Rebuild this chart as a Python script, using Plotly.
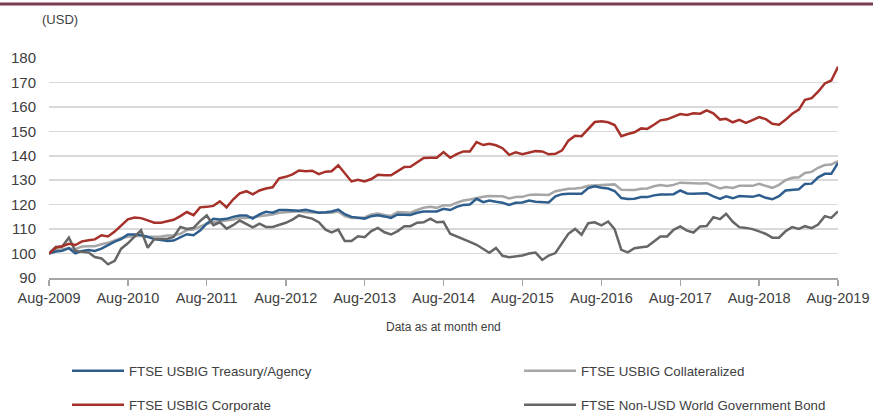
import pandas as pd
import plotly.graph_objects as go

dates = pd.date_range("2009-08-01", periods=121, freq="MS")
tick_dates = pd.date_range("2009-08-01", periods=11, freq="12MS")
tick_labels = ["Aug-2009", "Aug-2010", "Aug-2011", "Aug-2012", "Aug-2013", "Aug-2014",
               "Aug-2015", "Aug-2016", "Aug-2017", "Aug-2018", "Aug-2019"]

treasury = [100, 100.8, 101.1, 102.2, 100.1, 101.1, 101.4, 101.1, 102, 103.4, 104.9, 105.9,
            107.8, 107.8, 107.6, 106.8, 105.9, 105.5, 105.1, 105.3, 106.6, 107.9, 107.5, 109.4,
            112.2, 114.2, 113.9, 114.2, 115, 115.6, 115.6, 114.3, 116, 117.1, 116.7, 117.8,
            117.8, 117.6, 117.5, 117.9, 117.2, 116.7, 116.9, 117.2, 118, 116.1, 115, 114.8,
            114.3, 115.3, 115.7, 115.2, 114.6, 116, 116, 115.8, 116.7, 117.2, 117.2, 117.2,
            118.3, 117.8, 119.1, 119.9, 120.1, 122.4, 121, 121.7, 121.2, 120.8, 119.9, 120.8,
            120.9, 121.7, 121.2, 120.9, 120.9, 123.4, 124.3, 124.5, 124.5, 124.5, 126.8, 127.5,
            126.9, 126.6, 125.6, 122.7, 122.3, 122.4, 123.1, 123.1, 123.8, 124.2, 124.2, 124.3,
            125.8, 124.6, 124.5, 124.5, 124.7, 123.4, 122.4, 123.4, 122.6, 123.5, 123.5, 123.2,
            123.9, 122.8, 122.2, 123.5, 125.8, 126.2, 126.3, 128.5, 128.6, 131.2, 132.6, 132.6,
            137.1]

collateralized = [100, 101.4, 101.8, 102.2, 101.8, 102.9, 103, 103, 103.8, 104.4, 105.4, 106.4,
                  106.9, 107.1, 107.3, 106.9, 106.8, 107, 107.4, 107.5, 108.1, 109.6, 109.8, 110.9,
                  112.2, 112.8, 113.1, 113.5, 113.9, 114.5, 114.5, 114.9, 115.3, 115.6, 116, 116.7,
                  116.9, 117.2, 117.3, 116.9, 116.8, 116.5, 116.7, 116.7, 117.2, 115.3, 114.5, 114.5,
                  114.8, 116, 116.4, 115.8, 115.4, 117, 117, 116.7, 117.8, 118.7, 119.1, 118.7,
                  119.8, 119.7, 120.8, 121.7, 122.1, 122.8, 123.2, 123.5, 123.6, 123.4, 122.5, 123.1,
                  123.2, 124, 124.2, 124, 124, 125.5, 126.1, 126.5, 126.6, 126.9, 127.7, 127.9,
                  128, 128.3, 128.3, 126.1, 126, 126, 126.5, 126.6, 127.5, 128, 127.6, 128.1,
                  129, 128.8, 128.6, 128.7, 128.8, 127.7, 126.6, 127.2, 126.8, 127.7, 127.7, 127.7,
                  128.5, 127.6, 126.9, 128.1, 130, 131, 131.2, 133, 133.4, 135.1, 136.2, 136.4,
                  137.8]

corporate = [100, 102.4, 103, 104, 103.5, 105, 105.4, 105.8, 107.5, 107, 109, 111.3,
             114, 114.7, 114.5, 113.6, 112.6, 112.6, 113.1, 113.8, 115.3, 117, 115.7, 118.9,
             119.1, 119.5, 121.4, 118.9, 122.1, 124.6, 125.5, 124.2, 125.8, 126.6, 127.1, 130.8,
             131.4, 132.4, 134, 133.7, 133.9, 132.5, 133.5, 133.7, 136.1, 132.9, 129.5, 130.2,
             129.5, 130.5, 132.2, 132, 132, 133.7, 135.4, 135.5, 137.2, 139.1, 139.2, 139.2,
             141.5, 139.2, 140.7, 141.8, 141.8, 145.6, 144.4, 144.9, 144.3, 143.1, 140.4, 141.4,
             140.6, 141.3, 141.9, 141.8, 140.6, 140.8, 142.2, 146.2, 148.2, 148, 151.1, 153.8,
             154.1, 153.7, 152.6, 148, 148.9, 149.6, 151.2, 151, 152.7, 154.5, 154.9, 156,
             157.1, 156.7, 157.4, 157.2, 158.6, 157.4, 154.8, 155.1, 153.7, 154.7, 153.5, 154.6,
             155.8, 155, 153.1, 152.7, 154.7, 157.2, 158.9, 162.9, 163.6, 166.2, 169.6, 170.8,
             176.4]

non_usd_wgbi = [100, 102.7, 102.9, 106.5, 101.1, 100.7, 100.4, 98.6, 98, 95.6, 97, 102,
                104.2, 106.9, 109.5, 102.4, 105.9, 106, 106.1, 106.8, 110.9, 110.1, 110.5, 113.3,
                115.6, 111.6, 112.8, 110.2, 111.6, 113.5, 112.2, 110.7, 112.2, 110.9, 110.9, 111.7,
                112.6, 113.9, 115.6, 114.9, 114.3, 112.8, 109.8, 108.7, 109.8, 105.1, 105.1, 107.1,
                106.7, 109.2, 110.5, 108.7, 107.8, 109.2, 111.2, 111.2, 112.6, 112.8, 114.3, 112.8,
                113, 108.1, 107.1, 106, 104.8, 103.6, 102, 100.3, 102.3, 99.1, 98.5, 98.8,
                99.2, 100, 100.4, 97.4, 99.2, 100.2, 104.2, 108.1, 110.1, 107.7, 112.4, 112.8,
                111.5, 113.1, 110, 101.5, 100.5, 102.2, 102.6, 102.9, 104.9, 107, 107, 109.7,
                111.1, 109.4, 108.6, 111.1, 111.3, 114.9, 114.1, 116.3, 113, 110.8, 110.5, 110,
                109.1, 108, 106.5, 106.5, 109.1, 110.8, 110.1, 111.2, 110.4, 111.9, 115.3, 114.6,
                117.3]

FONT = "Liberation Sans, Arial, sans-serif"
TXT = "#404040"

fig = go.Figure()
series = [
    ("FTSE USBIG Collateralized", collateralized, "#A6A6A6", "legend2"),
    ("FTSE USBIG Treasury/Agency", treasury, "#2E5E8E", "legend"),
    ("FTSE Non-USD World Government Bond", non_usd_wgbi, "#666666", "legend4"),
    ("FTSE USBIG Corporate", corporate, "#A5312A", "legend3"),
]
for name, vals, col, leg in series:
    fig.add_trace(go.Scatter(x=dates, y=vals, mode="lines", name=name,
                             line=dict(color=col, width=2.5), showlegend=True,
                             legend=leg, hoverinfo="skip"))


def leg(x, y):
    return dict(x=x, xref="container", y=y, yref="container", xanchor="left", yanchor="middle",
                itemwidth=52, font=dict(size=13.3, color=TXT), bgcolor="rgba(0,0,0,0)",
                borderwidth=0, visible=True)


fig.update_layout(
    width=873, height=412, autosize=False, showlegend=True,
    margin=dict(l=49, r=35, t=58, b=134, autoexpand=False),
    paper_bgcolor="white", plot_bgcolor="white",
    font=dict(family=FONT, color=TXT),
    legend=leg(67 / 873, 1 - 371 / 412),
    legend2=leg(519 / 873, 1 - 371 / 412),
    legend3=leg(67 / 873, 1 - 405 / 412),
    legend4=leg(519 / 873, 1 - 405 / 412),
    xaxis=dict(type="date", range=[dates[0], dates[-1]], tickvals=tick_dates, ticktext=tick_labels,
               ticks="outside", ticklen=6, tickcolor="#A6A6A6", tickwidth=1.5,
               showline=True, linecolor="#A6A6A6", linewidth=1.5, showgrid=False, zeroline=False,
               tickfont=dict(size=14.5, color=TXT), automargin=False),
    yaxis=dict(range=[90, 180], dtick=10, tick0=90, showgrid=True, gridcolor="#D9D9D9", gridwidth=1.5,
               showline=False, zeroline=False, ticks="", ticklabelstandoff=12,
               tickfont=dict(size=15, color=TXT), automargin=False),
    annotations=[
        dict(text="(USD)", xref="paper", yref="paper", x=-0.0114, y=1.177, xanchor="left",
             yanchor="middle", showarrow=False, font=dict(size=13, color=TXT)),
        dict(text="Data as at month end", xref="paper", yref="paper", x=0.5, y=-0.2227,
             xanchor="center", yanchor="middle", showarrow=False, font=dict(size=12, color=TXT)),
    ],
    shapes=[dict(type="line", xref="paper", yref="paper", x0=-0.07, x1=1.05, y0=1.245, y1=1.245,
                 line=dict(color="#7B3B52", width=3))],
)

fig.write_html("out.html", config={"displayModeBar": False, "staticPlot": True},
               post_script="document.body.style.margin='0';document.body.style.padding='0';")
